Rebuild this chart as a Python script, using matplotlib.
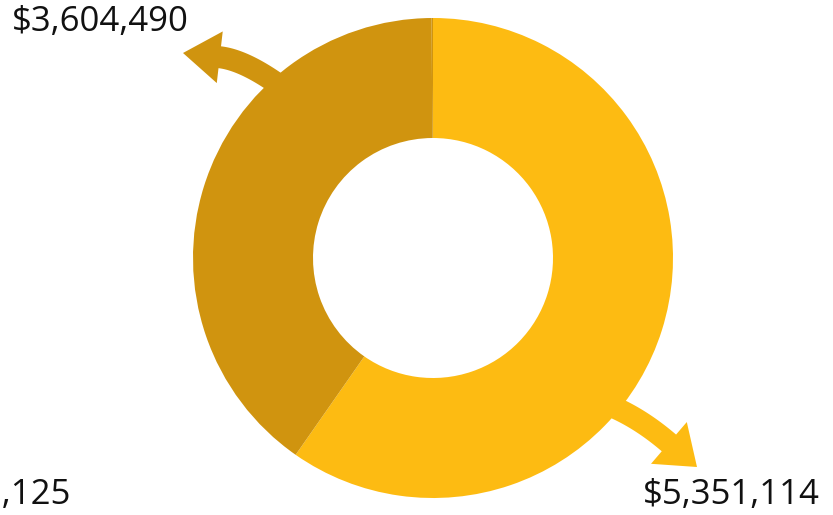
import matplotlib
matplotlib.use("Agg")
import matplotlib.pyplot as plt
import numpy as np
from matplotlib.patches import Polygon

# Data
labels_values = [5351114, 3604490, 8125]
colors = ["#FDBB12", "#D0940F", "#D0940F"]
label_texts = ["${:,}".format(v) for v in labels_values]

W, H = 833, 515
fig = plt.figure(figsize=(W / 100, H / 100), dpi=100)
ax = fig.add_axes([0, 0, 1, 1])

cx, cy, R = 433, 257, 240
wedges, _ = ax.pie(labels_values, colors=colors, startangle=90, counterclock=False,
                   radius=R, center=(cx, cy),
                   wedgeprops=dict(width=R / 2, edgecolor="none", linewidth=0))
ax.set_xlim(0, W)
ax.set_ylim(0, H)
ax.set_aspect("equal")
ax.axis("off")

font = ["Open Sans", "DejaVu Sans"]
fs = 25
tcolor = "#111111"


def curved_arrow(p0, d0, tip, d1, tail_w=22, head_len=37, head_w=54, color="k"):
    """Work in top-left pixel coords; d0/d1 are direction vectors."""
    p0 = np.array(p0, float)
    tip = np.array(tip, float)
    d0 = np.array(d0, float); d0 /= np.linalg.norm(d0)
    u = np.array(d1, float); u /= np.linalg.norm(u)
    b = tip - head_len * u
    # intersection of start tangent line and end tangent line
    A = np.column_stack([d0, u])
    s, t = np.linalg.solve(A, b - p0)
    c = p0 + s * d0
    ts = np.linspace(0, 1, 60)[:, None]
    pts = (1 - ts) ** 2 * p0 + 2 * (1 - ts) * ts * c + ts ** 2 * b
    tang = 2 * (1 - ts) * (c - p0) + 2 * ts * (b - c)
    tang /= np.linalg.norm(tang, axis=1)[:, None]
    nrm = np.column_stack([-tang[:, 1], tang[:, 0]])
    left = pts + tail_w / 2 * nrm
    right = pts - tail_w / 2 * nrm
    n_end = np.array([-u[1], u[0]])
    poly = np.vstack([left, b + head_w / 2 * n_end, tip, b - head_w / 2 * n_end,
                      right[::-1]])
    poly[:, 1] = H - poly[:, 1]
    ax.add_patch(Polygon(poly, closed=True, facecolor=color, edgecolor="none",
                         zorder=3))


def ring_pt(ang_cw, r):
    a = np.deg2rad(90 - ang_cw)
    return cx + r * np.cos(a), H - (cy + r * np.sin(a))


# arrow for first slice (yellow)
curved_arrow(ring_pt(132, 210), (0.966, 0.259), (697, 467), (28, 24),
             head_w=55, color=colors[0])
# arrow for second slice (dark)
curved_arrow(ring_pt(320, 200), (-0.766, -0.643), (183, 53), (-52, -6),
             head_w=52, color=colors[1])

ax.text(820, H - 495, label_texts[0], ha="right", va="center", fontsize=fs,
        family=font, color=tcolor)
ax.text(12, H - 22, label_texts[1], ha="left", va="center", fontsize=fs,
        family=font, color=tcolor)
ax.text(71, H - 495, label_texts[2], ha="right", va="center", fontsize=fs,
        family=font, color=tcolor)

fig.savefig("out.png", dpi=100)
